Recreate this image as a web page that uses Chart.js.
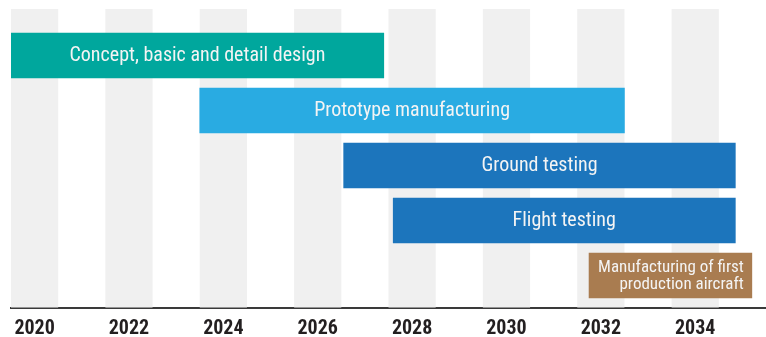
<!DOCTYPE html>
<html>
<head>
<meta charset="utf-8">
<script src="https://cdn.jsdelivr.net/npm/chart.js@4.4.0/dist/chart.umd.min.js"></script>
<style>
  html, body { margin: 0; padding: 0; background: #fff; }
  #wrap { width: 766px; height: 337px; position: relative; }
</style>
</head>
<body>
<div id="wrap"><canvas id="timeline"></canvas></div>
<script>
// Programme phases (one row each) and their start / end years
const phases = [
    "Concept, basic and detail design",
    "Prototype manufacturing",
    "Ground testing",
    "Flight testing",
    ["Manufacturing of first", "production aircraft"]
]
const startYears = [2019.5, 2023.5, 2026.55, 2027.6, 2031.75]
const endYears = [2027.4, 2032.5, 2034.85, 2034.85, 2035.2]
const tickYears = [2020, 2022, 2024, 2026, 2028, 2030, 2032, 2034]

const phaseColors = ["#00a79d", "#29abe2", "#1c75bc", "#1c75bc", "#a97c50"]
const narrow = '"Liberation Sans Narrow", "Roboto Condensed", "DejaVu Sans Condensed", Arial, sans-serif'

// grey column behind every labelled year
const yearStripes = {
    id: "yearStripes",
    beforeDatasetsDraw(chart) {
        const { ctx, chartArea, scales } = chart
        ctx.save()
        ctx.fillStyle = "#f0f0f0"
        tickYears.forEach((yr) => {
            const x0 = scales.x.getPixelForValue(yr - 0.5)
            const x1 = scales.x.getPixelForValue(yr + 0.5)
            ctx.fillRect(x0, chartArea.top, x1 - x0, chartArea.bottom - chartArea.top)
        })
        ctx.restore()
    }
}

// white captions inside the bars
const barCaptions = {
    id: "barCaptions",
    afterDatasetsDraw(chart) {
        const { ctx } = chart
        const meta = chart.getDatasetMeta(0)
        ctx.save()
        ctx.fillStyle = "#f4f4f4"
        ctx.textBaseline = "middle"
        meta.data.forEach((bar, i) => {
            const label = phases[i]
            if (Array.isArray(label)) {
                ctx.font = "17px " + narrow
                ctx.textAlign = "right"
                const right = Math.max(bar.x, bar.base) - 8
                label.forEach((line, j) => {
                    ctx.fillText(line, right, bar.y + 1 + (j - (label.length - 1) / 2) * 17)
                })
            } else {
                ctx.font = "20px " + narrow
                ctx.textAlign = "center"
                ctx.fillText(label, (bar.x + bar.base) / 2, bar.y + 1)
            }
        })
        ctx.restore()
    }
}

new Chart(document.getElementById("timeline"), {
    type: "bar",
    data: {
        datasets: [{
            data: phases.map((p, i) => ({ y: i, x: [startYears[i], endYears[i]] })),
            backgroundColor: phaseColors,
            borderWidth: 0,
            borderSkipped: false,
            barThickness: 45
        }]
    },
    options: {
        indexAxis: "y",
        responsive: true,
        maintainAspectRatio: false,
        animation: false,
        layout: { padding: { top: 9, left: 11, right: 0, bottom: 0 } },
        plugins: {
            legend: { display: false },
            tooltip: { enabled: false }
        },
        scales: {
            x: {
                type: "linear",
                min: 2019.5,
                max: 2035.5,
                afterBuildTicks: (scale) => {
                    scale.ticks = tickYears.map((v) => ({ value: v }))
                },
                afterFit: (scale) => {
                    scale.height = 29.5
                },
                grid: { display: false, drawTicks: false },
                border: { display: true, color: "#3a3a3a", width: 2 },
                ticks: {
                    autoSkip: false,
                    maxRotation: 0,
                    padding: 9,
                    color: "#231f20",
                    font: { family: narrow, size: 20, weight: "bold" },
                    callback: (v) => String(v)
                }
            },
            y: {
                type: "linear",
                display: false,
                offset: false,
                reverse: true,
                min: -0.845,
                max: 4.582
            }
        }
    },
    plugins: [yearStripes, barCaptions]
})
</script>
</body>
</html>
